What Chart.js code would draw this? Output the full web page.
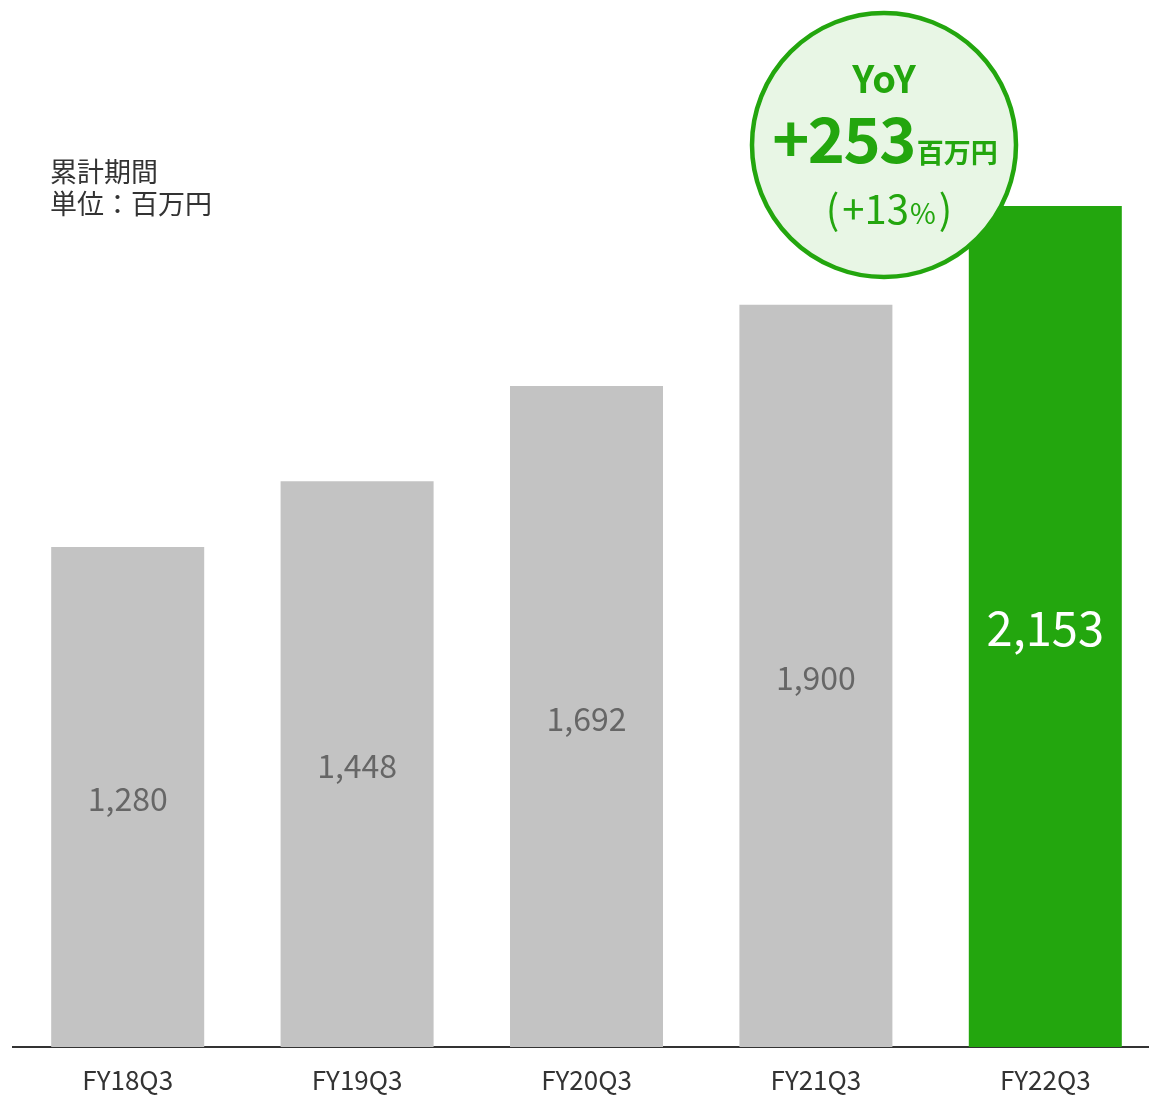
<!DOCTYPE html>
<html><head><meta charset="utf-8">
<script src="https://cdn.jsdelivr.net/npm/chart.js@4.4.0/dist/chart.umd.min.js"></script>
<style>
html,body{margin:0;padding:0;overflow:hidden;background:#fff;}
#wrap{position:relative;width:1160px;height:1096px;}
</style></head>
<body>
<div id="wrap"><canvas id="c"></canvas></div>
<script>
const categories = ["FY18Q3","FY19Q3","FY20Q3","FY21Q3","FY22Q3"];
const values = [1280, 1448, 1692, 1900, 2153];
const valueLabels = ["1,280","1,448","1,692","1,900","2,153"];
const noteLines = ["累計期間","単位：百万円"];
const yoyTitle = "YoY";
const yoyValue = "+253";
const yoyUnit = "百万円";
const yoyPct = "+13";

const FONT = "'Noto Sans CJK JP','Noto Sans',sans-serif";
const GRAY = "#c3c3c3", GREEN = "#23a60e";

const labelPlugin = {
  id:'labels',
  afterDatasetsDraw(chart){
    const ctx = chart.ctx;
    const meta = chart.getDatasetMeta(0);
    ctx.save();
    ctx.textAlign='center'; ctx.textBaseline='middle';
    meta.data.forEach((bar,i)=>{
      const last = i===values.length-1;
      ctx.font = (last? "47px ":"32px ")+FONT;
      ctx.fillStyle = last? "#ffffff":"#666666";
      ctx.fillText(valueLabels[i], bar.x, (bar.y+bar.base)/2 + 2);
    });
    ctx.restore();
  },
  afterDraw(chart){
    const ctx = chart.ctx;
    ctx.save();
    // note
    ctx.fillStyle="#333"; ctx.font="27px "+FONT; ctx.textAlign='left'; ctx.textBaseline='middle';
    noteLines.forEach((t,i)=>ctx.fillText(t, 50, 172+i*32));
    // bubble
    const cx=884, cy=145, r=132;
    ctx.beginPath(); ctx.arc(cx,cy,r,0,Math.PI*2);
    ctx.fillStyle="#e8f6e5"; ctx.fill();
    ctx.lineWidth=4.5; ctx.strokeStyle=GREEN; ctx.stroke();
    ctx.fillStyle=GREEN; ctx.textBaseline='alphabetic';
    ctx.textAlign='center';
    ctx.font="bold 38px "+FONT;
    ctx.fillText(yoyTitle, cx, 93);
    // +253 百万円
    ctx.textAlign='left';
    ctx.letterSpacing='-1.5px';
    ctx.font="bold 63px "+FONT; const w1=ctx.measureText(yoyValue).width;
    ctx.letterSpacing='0px';
    ctx.font="bold 27px "+FONT; const w2=ctx.measureText(yoyUnit).width;
    let x0 = cx-(w1+w2)/2;
    ctx.letterSpacing='-1.5px';
    ctx.font="bold 63px "+FONT; ctx.fillText(yoyValue, x0, 163);
    ctx.letterSpacing='0px';
    ctx.font="bold 27px "+FONT; ctx.fillText(yoyUnit, x0+w1+2, 163);
    // (+13%)
    const parts=[["(","40px ",3],[yoyPct,"40px ",1],["%","28px ",3],[")","40px ",0]];
    let tw=0; parts.forEach(p=>{ctx.font=p[1]+FONT; p.push(ctx.measureText(p[0]).width); tw+=p[3]+p[2];});
    x0 = cx + 5 - tw/2;
    parts.forEach(p=>{ctx.font=p[1]+FONT; ctx.fillText(p[0], x0, 224); x0+=p[3]+p[2];});
    ctx.restore();
  }
};

new Chart(document.getElementById('c'), {
  type:'bar',
  data:{labels:categories, datasets:[{data:values,
    backgroundColor: values.map((v,i)=> i===values.length-1? GREEN:GRAY),
    barPercentage:0.667, categoryPercentage:1.0}]},
  options:{
    responsive:true, maintainAspectRatio:false, animation:false,
    devicePixelRatio:1,
    layout:{padding:{left:13,right:0,top:0,bottom:0}},
    plugins:{legend:{display:false}, tooltip:{enabled:false}},
    scales:{
      y:{display:false, min:0, max:2680},
      x:{
        grid:{display:false, drawTicks:false},
        border:{display:true, color:'#333', width:2},
        ticks:{color:'#333', font:{family:FONT, size:26}, padding:18},
        afterFit(s){ s.height = 49; }
      }
    }
  },
  plugins:[labelPlugin]
});
</script>
</body></html>
